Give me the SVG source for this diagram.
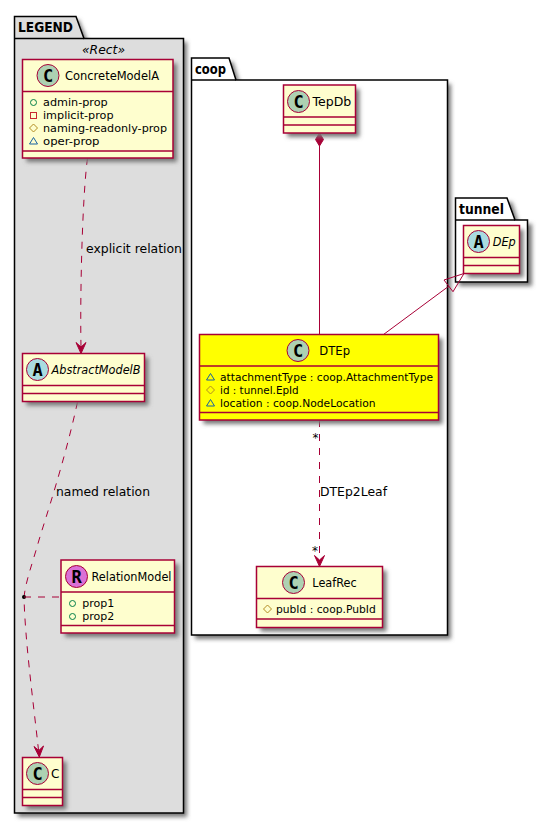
<svg xmlns="http://www.w3.org/2000/svg" width="548" height="824" viewBox="0 0 548 824">
<style>
text{font-family:"DejaVu Sans","Liberation Sans",sans-serif;fill:#000}
.pkg{fill:#fff;stroke:#000;stroke-width:1.5}
.pkgl{fill:#ddd;stroke:#000;stroke-width:1.5}
.sh{filter:url(#shadow)}
.box{fill:#FEFECE;stroke:#A80036;stroke-width:1.5}
.yel{fill:#FFFF00;stroke:#A80036;stroke-width:1.5}
.div{stroke:#A80036;stroke-width:1.5;fill:none}
.c{fill:#ADD1B2;stroke:#A80036;stroke-width:1}
.a{fill:#A9DCDF;stroke:#A80036;stroke-width:1}
.r{fill:#DA70D6;stroke:#A80036;stroke-width:1}
.sp{font-family:"DejaVu Sans Mono",monospace;font-weight:bold;font-size:17px;text-anchor:middle}
.n{font-size:12px}
.i{font-size:12px;font-style:italic}
.m{font-size:10.8px}
.l{font-size:12px}
.t{font-size:13.5px;font-weight:bold}
.line{stroke:#A80036;stroke-width:1;fill:none}
.dash{stroke:#A80036;stroke-width:1;fill:none;stroke-dasharray:7,7}
.head{stroke:#A80036;stroke-width:1;fill:#A80036}
.pub{fill:none;stroke:#038048}
.pri{fill:none;stroke:#C82930}
.pro{fill:none;stroke:#B38D22}
.pac{fill:none;stroke:#1963A0}
</style>
<defs>
<filter id="shadow" x="-20%" y="-20%" width="150%" height="150%"><feGaussianBlur stdDeviation="2"/></filter>
<g id="vpub"><circle class="pub" cx="0" cy="0" r="3"/></g>
<g id="vpri"><rect class="pri" x="-3" y="-3" width="6" height="6"/></g>
<g id="vpro"><path class="pro" d="M0,-4L4,0L0,4L-4,0Z"/></g>
<g id="vpac"><path class="pac" d="M0,-3.500L4,3L-4,3Z"/></g>
</defs>

<g id="pkg-legend">
<path d="M18,20H79L88,42H187V817H18Z" fill="#777" class="sh"/>
<path class="pkgl" d="M14.500,38.500V16.500H76L84,38.500H183.500V813H14.500Z"/>
<path class="pkgl" d="M14.500,38.500H84"/>
<text class="t" x="18" y="32" textLength="55" lengthAdjust="spacingAndGlyphs">LEGEND</text>
<text class="i" x="82" y="54" textLength="43" lengthAdjust="spacingAndGlyphs">«Rect»</text>
</g>
<g id="pkg-coop">
<path d="M195,62H233L240,84H451V639H195Z" fill="#777" class="sh"/>
<path class="pkg" d="M191.500,80V58H229L236,80H447.500V635H191.500Z"/>
<path class="pkg" d="M191.500,80H236"/>
<text class="t" x="195" y="74" textLength="31" lengthAdjust="spacingAndGlyphs">coop</text>
</g>
<g id="pkg-tunnel">
<path d="M459,202H512L519,224H532V286H459Z" fill="#777" class="sh"/>
<path class="pkg" d="M455.500,220V198H507L515,220H527.500V282H455.500Z"/>
<path class="pkg" d="M455.500,220H515"/>
<text class="t" x="459" y="214" textLength="45" lengthAdjust="spacingAndGlyphs">tunnel</text>
</g>

<g id="connectors">
<path class="dash" d="M87.500,158C82,200 80,300 81,347"/>
<path class="head" d="M81,353.500L76,342.500L81,347L86,342.500Z"/>
<text class="l" x="86" y="253" textLength="96" lengthAdjust="spacingAndGlyphs">explicit relation</text>
<path class="dash" d="M77.500,402C65,460 45,520 39,540C32,565 26,580 24,597C25,640 33,700 38.500,750"/>
<path class="head" d="M39.300,757L34,746.500L38.800,750.500L43.500,746Z"/>
<text class="l" x="56" y="496" textLength="94" lengthAdjust="spacingAndGlyphs">named relation</text>
<circle cx="24" cy="597" r="2" fill="#000"/>
<path class="dash" d="M24,597H61"/>
<path class="line" d="M319.500,146V334.500"/>
<path class="head" d="M319.500,133L323.500,139.500L319.500,146L315.500,139.500Z"/>
<path class="line" d="M383.500,334.500L449,286"/>
<path class="line" d="M464,273.500L444,280L453,291.700Z"/>
<path class="dash" d="M319.500,420V560"/>
<path class="head" d="M319.500,566.500L314.500,555.500L319.500,560L324.500,555.500Z"/>
<text class="l" x="312.500" y="442">*</text>
<text class="l" x="312" y="555">*</text>
<text class="l" x="320" y="496" textLength="67" lengthAdjust="spacingAndGlyphs">DTEp2Leaf</text>
</g>

<g id="node-ConcreteModelA">
<rect x="26.500" y="63.500" width="150.500" height="98.500" fill="#777" class="sh"/>
<rect class="box" x="22.500" y="59.500" width="150.500" height="98.500"/>
<path class="div" d="M22.500,91.500H173M22.500,151H173"/>
<circle class="c" cx="48" cy="75.500" r="11"/>
<text class="sp" x="48" y="81.500">C</text>
<text class="n" x="65" y="80" textLength="94" lengthAdjust="spacingAndGlyphs">ConcreteModelA</text>
<use href="#vpub" x="33.500" y="102.500"/>
<use href="#vpri" x="33.500" y="115.500"/>
<use href="#vpro" x="33.500" y="128"/>
<use href="#vpac" x="33.500" y="141"/>
<text class="m" x="43" y="106" textLength="64.700" lengthAdjust="spacingAndGlyphs">admin-prop</text>
<text class="m" x="43" y="119" textLength="70.500" lengthAdjust="spacingAndGlyphs">implicit-prop</text>
<text class="m" x="43" y="132" textLength="124" lengthAdjust="spacingAndGlyphs">naming-readonly-prop</text>
<text class="m" x="43" y="145" textLength="56.500" lengthAdjust="spacingAndGlyphs">oper-prop</text>
</g>

<g id="node-AbstractModelB">
<rect x="26.500" y="357.500" width="122" height="48" fill="#777" class="sh"/>
<rect class="box" x="22.500" y="353.500" width="122" height="48"/>
<path class="div" d="M22.500,385.500H144.500M22.500,393.500H144.500"/>
<circle class="a" cx="37.500" cy="369.500" r="11"/>
<text class="sp" x="37.500" y="375.500">A</text>
<text class="i" x="51.500" y="374" textLength="89" lengthAdjust="spacingAndGlyphs">AbstractModelB</text>
</g>

<g id="node-RelationModel">
<rect x="65" y="564" width="113.500" height="73" fill="#777" class="sh"/>
<rect class="box" x="61" y="560" width="113.500" height="73"/>
<path class="div" d="M61,592H174.500M61,625.500H174.500"/>
<circle class="r" cx="76.500" cy="576.500" r="11"/>
<text class="sp" x="76.500" y="582.500">R</text>
<text class="n" x="91.500" y="581" textLength="80" lengthAdjust="spacingAndGlyphs">RelationModel</text>
<use href="#vpub" x="72.500" y="603.500"/>
<use href="#vpub" x="72.500" y="616.500"/>
<text class="m" x="82.300" y="607" textLength="32" lengthAdjust="spacingAndGlyphs">prop1</text>
<text class="m" x="82.300" y="620" textLength="32" lengthAdjust="spacingAndGlyphs">prop2</text>
</g>

<g id="node-C">
<rect x="26.500" y="761.500" width="40" height="48" fill="#777" class="sh"/>
<rect class="box" x="22.500" y="757.500" width="40" height="48"/>
<path class="div" d="M22.500,789.500H62.500M22.500,797.500H62.500"/>
<circle class="c" cx="37.500" cy="773.500" r="11"/>
<text class="sp" x="37.500" y="779.500">C</text>
<text class="n" x="51" y="778">C</text>
</g>

<g id="node-TepDb">
<rect x="287.500" y="89" width="72" height="48" fill="#777" class="sh"/>
<rect class="box" x="283.500" y="85" width="72" height="48"/>
<path class="div" d="M283.500,117H355.500M283.500,125H355.500"/>
<circle class="c" cx="298.500" cy="101.500" r="11"/>
<text class="sp" x="298.500" y="107.500">C</text>
<text class="n" x="312.500" y="106" textLength="38.700" lengthAdjust="spacingAndGlyphs">TepDb</text>
</g>

<g id="node-DEp">
<rect x="467.500" y="229.500" width="56" height="48" fill="#777" class="sh"/>
<rect class="box" x="463.500" y="225.500" width="56" height="48"/>
<path class="div" d="M463.500,257.500H519.500M463.500,265.500H519.500"/>
<circle class="a" cx="478.500" cy="241.500" r="11"/>
<text class="sp" x="478.500" y="247.500">A</text>
<text class="i" x="492.700" y="246" textLength="23" lengthAdjust="spacingAndGlyphs">DEp</text>
</g>

<g id="node-DTEp">
<rect x="203.500" y="338.500" width="239" height="85.500" fill="#777" class="sh"/>
<rect class="yel" x="199.500" y="334.500" width="239" height="85.500"/>
<path class="div" d="M199.500,366H438.500M199.500,412.500H438.500"/>
<circle class="c" cx="298" cy="350.500" r="11"/>
<text class="sp" x="298" y="356.500">C</text>
<text class="n" x="319.300" y="355" textLength="30.700" lengthAdjust="spacingAndGlyphs">DTEp</text>
<use href="#vpac" x="210.500" y="377"/>
<use href="#vpro" x="210.500" y="390"/>
<use href="#vpac" x="210.500" y="403"/>
<text class="m" x="220" y="381" textLength="213" lengthAdjust="spacingAndGlyphs">attachmentType : coop.AttachmentType</text>
<text class="m" x="220" y="394" textLength="78.700" lengthAdjust="spacingAndGlyphs">id : tunnel.EpId</text>
<text class="m" x="220" y="407" textLength="155.500" lengthAdjust="spacingAndGlyphs">location : coop.NodeLocation</text>
</g>

<g id="node-LeafRec">
<rect x="260.500" y="570.500" width="126" height="61" fill="#777" class="sh"/>
<rect class="box" x="256.500" y="566.500" width="126" height="61"/>
<path class="div" d="M256.500,598.500H382.500M256.500,619H382.500"/>
<circle class="c" cx="293.500" cy="582.500" r="11"/>
<text class="sp" x="293.500" y="588.500">C</text>
<text class="n" x="312.300" y="587" textLength="44.400" lengthAdjust="spacingAndGlyphs">LeafRec</text>
<use href="#vpro" x="267.500" y="609"/>
<text class="m" x="276" y="613" textLength="99.700" lengthAdjust="spacingAndGlyphs">pubId : coop.PubId</text>
</g>
</svg>
